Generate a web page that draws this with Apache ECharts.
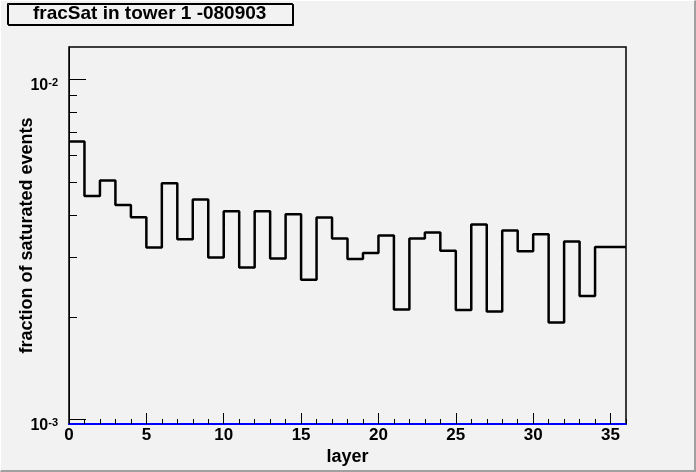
<!DOCTYPE html>
<html><head><meta charset="utf-8">
<script src="https://cdn.jsdelivr.net/npm/echarts@6/dist/echarts.min.js"></script>
<style>
html,body{margin:0;padding:0;background:#f2f2f2;}
#c{position:absolute;left:0;top:0;width:696px;height:472px;}
#b{position:absolute;left:0;top:0;width:696px;height:472px;box-sizing:border-box;border-style:solid;border-width:1px 2px 2px 1px;border-color:#ffffff #a0a0a0 #a0a0a0 #ffffff;pointer-events:none;}
</style></head><body><div id="c"></div><div id="b"></div>
<script>
// bin lower edges (layer) and bin contents
const layers = [0,1,2,3,4,5,6,7,8,9,10,11,12,13,14,15,16,17,18,19,20,21,22,23,24,25,26,27,28,29,30,31,32,33,34,35];
const fracSat = [0.00658, 0.00455, 0.00505, 0.00428, 0.00394, 0.00321, 0.00496, 0.00339, 0.00444, 0.00300,
                 0.00410, 0.00280, 0.00410, 0.00298, 0.00402, 0.00258, 0.00393, 0.00341, 0.00297, 0.00309,
                 0.00348, 0.00211, 0.00341, 0.00355, 0.00314, 0.00210, 0.00375, 0.00208, 0.00360, 0.00313,
                 0.00351, 0.00193, 0.00334, 0.00231, 0.00322, 0.00322];
const xRange = [0, 36];
const yRange = [0.000971, 0.01247];
const xMajorTicks = [0, 5, 10, 15, 20, 25, 30, 35];
const xMinorTicks = [0,1,2,3,4,5,6,7,8,9,10,11,12,13,14,15,16,17,18,19,20,21,22,23,24,25,26,27,28,29,30,31,32,33,34,35,36];
const yMajorTicks = [0.001, 0.01];
const yMinorTicks = [0.002, 0.003, 0.004, 0.005, 0.006, 0.007, 0.008, 0.009];
const titleText = 'fracSat in tower 1 -080903';
const xTitle = 'layer';
const yTitle = 'fraction of saturated events';

const FONT = 'Liberation Sans, Arial, Helvetica, sans-serif';
const stepData = layers.map((x, i) => [x, fracSat[i]]);
stepData.push([xRange[1], fracSat[fracSat.length - 1]]);

const chart = echarts.init(document.getElementById('c'), null, {renderer: 'canvas'});
chart.setOption({
  animation: false,
  backgroundColor: '#f2f2f2',
  title: {
    text: titleText,
    left: 7, top: 3,
    padding: [1, 26, 1, 26],
    backgroundColor: '#f2f2f2',
    borderColor: '#000', borderWidth: 1,
    shadowColor: '#000', shadowOffsetX: 1, shadowOffsetY: 1, shadowBlur: 0,
    textStyle: {fontFamily: FONT, fontWeight: 'bold', fontSize: 19, lineHeight: 20, color: '#000'}
  },
  grid: {
    left: 69, right: 70, top: 47, bottom: 48,
    containLabel: false, outerBoundsMode: 'none',
    show: true, borderColor: '#000', borderWidth: 1.5, backgroundColor: 'transparent'
  },
  xAxis: [
    {
      type: 'value', position: 'bottom', min: xRange[0], max: xRange[1], z: 5,
      axisLine: {show: true, lineStyle: {color: '#0000ff', width: 2}},
      axisTick: {show: true, inside: true, length: 5, customValues: xMinorTicks, lineStyle: {color: '#000', width: 1}},
      axisLabel: {show: false},
      splitLine: {show: false},
      name: xTitle, nameLocation: 'middle', nameGap: 24, nameMoveOverlap: false,
      nameTextStyle: {fontFamily: FONT, fontWeight: 'bold', fontSize: 18, color: '#000'}
    },
    {
      type: 'value', position: 'bottom', min: xRange[0], max: xRange[1], z: 4,
      axisLine: {show: false},
      axisTick: {show: true, inside: true, length: 11, customValues: xMajorTicks, lineStyle: {color: '#000', width: 1}},
      axisLabel: {show: true, customValues: xMajorTicks, margin: 3,
        fontFamily: FONT, fontWeight: 'bold', fontSize: 17, color: '#000'},
      splitLine: {show: false}
    }
  ],
  yAxis: [
    {
      type: 'log', logBase: 10, position: 'left', min: yRange[0], max: yRange[1],
      axisLine: {show: true, lineStyle: {color: '#000', width: 1}},
      axisTick: {show: true, inside: true, length: 17, customValues: yMajorTicks, lineStyle: {color: '#000', width: 1}},
      axisLabel: {
        show: true, customValues: yMajorTicks, margin: 11,
        padding: [12, 0, 0, 0],
        fontSize: 16, fontWeight: 'bold', fontFamily: FONT, color: '#000',
        formatter: function (v) {
          const e = Math.round(Math.log10(v));
          return '{b|10}{s|' + e + '}';
        },
        rich: {
          b: {fontFamily: FONT, fontWeight: 'bold', fontSize: 16, lineHeight: 16, color: '#000', verticalAlign: 'bottom'},
          s: {fontFamily: FONT, fontWeight: 'bold', fontSize: 11, lineHeight: 11, color: '#000', verticalAlign: 'top'}
        }
      },
      splitLine: {show: false},
      name: yTitle, nameLocation: 'middle', nameRotate: 90, nameGap: 33, nameMoveOverlap: false,
      nameTextStyle: {fontFamily: FONT, fontWeight: 'bold', fontSize: 18, color: '#000'}
    },
    {
      type: 'log', logBase: 10, position: 'left', min: yRange[0], max: yRange[1],
      axisLine: {show: false},
      axisTick: {show: true, inside: true, length: 8, customValues: yMinorTicks, lineStyle: {color: '#000', width: 1}},
      axisLabel: {show: false},
      splitLine: {show: false}
    }
  ],
  series: [{
    type: 'line', xAxisIndex: 0, yAxisIndex: 0,
    step: 'end', showSymbol: false, symbol: 'none',
    lineStyle: {color: '#000', width: 2.5},
    data: stepData
  }]
});
</script></body></html>
